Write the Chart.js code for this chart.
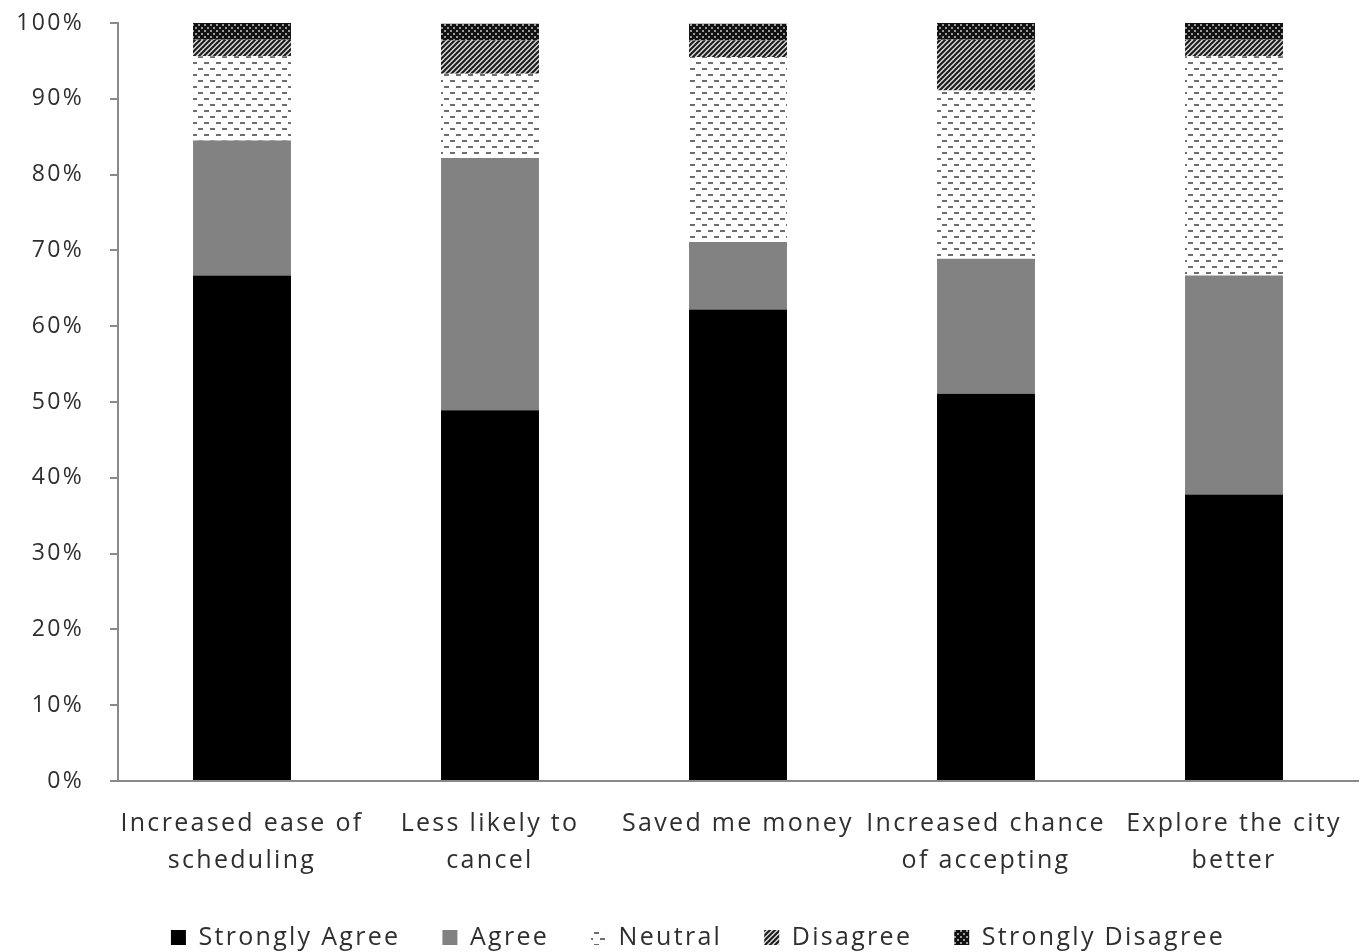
<!DOCTYPE html>
<html>
<head>
<meta charset="utf-8">
<script src="https://cdn.jsdelivr.net/npm/chart.js@4.4.1/dist/chart.umd.min.js"></script>
<style>
  html, body { margin: 0; padding: 0; background: #ffffff; }
  #wrap { width: 1361px; height: 952px; }
</style>
</head>
<body>
<div id="wrap"><canvas id="chart" width="1361" height="952"></canvas></div>
<script>
// Survey responses, percent of respondents per statement
const categories = [
  ["Increased ease of", "scheduling"],
  ["Less likely to", "cancel"],
  ["Saved me money"],
  ["Increased chance", "of accepting"],
  ["Explore the city", "better"]
];
const seriesNames = ["Strongly Agree", "Agree", "Neutral", "Disagree", "Strongly Disagree"];
const stronglyAgree    = [66.7, 48.9, 62.2, 51.1, 37.8];
const agree            = [17.8, 33.3,  8.9, 17.8, 28.9];
const neutral          = [11.1, 11.1, 24.4, 22.2, 28.9];
const disagree         = [ 2.2,  4.4,  2.2,  6.7,  2.2];
const stronglyDisagree = [ 2.2,  2.2,  2.2,  2.2,  2.2];
const yTicks = [0, 10, 20, 30, 40, 50, 60, 70, 80, 90, 100];

const canvas = document.getElementById('chart');
const ctx = canvas.getContext('2d');

// Small tiled fills for the monochrome series
function makePattern(w, h, paint) {
  const c = document.createElement('canvas');
  c.width = w; c.height = h;
  const g = c.getContext('2d');
  paint(g, w, h);
  return ctx.createPattern(c, 'repeat');
}

const fillSolidBlack = '#000000';
const fillGray = '#828282';
const fillDashes = makePattern(12, 12, (g, w, h) => {
  g.fillStyle = '#ffffff';
  g.fillRect(0, 0, w, h);
  g.fillStyle = '#6e6e6e';
  g.fillRect(0, 2, 5, 2);
  g.fillRect(6, 8, 5, 2);
});
const fillHatch = makePattern(5, 5, (g, w, h) => {
  g.fillStyle = '#d8d8d8';
  g.fillRect(0, 0, w, h);
  g.strokeStyle = '#1a1a1a';
  g.lineWidth = 2;
  g.beginPath();
  g.moveTo(-1, h + 1); g.lineTo(w + 1, -1);
  g.moveTo(-1, 1); g.lineTo(1, -1);
  g.moveTo(w - 1, h + 1); g.lineTo(w + 1, h - 1);
  g.stroke();
});
const fillDots = makePattern(6, 6, (g, w, h) => {
  g.fillStyle = '#111111';
  g.fillRect(0, 0, w, h);
  g.fillStyle = '#9a9a9a';
  g.fillRect(0, 0, 2, 2);
  g.fillRect(3, 3, 2, 2);
});

const seriesValues = [stronglyAgree, agree, neutral, disagree, stronglyDisagree];
const seriesFills = [fillSolidBlack, fillGray, fillDashes, fillHatch, fillDots];

const textColor = '#2f2f2f';
const axisColor = '#8a8a8a';
const fontFamily = "'Open Sans', 'Noto Sans', sans-serif";

// Wider letter spacing for all chart text
const spacingPlugin = {
  id: 'spacing',
  beforeLayout(chart) { chart.ctx.letterSpacing = '2.3px'; },
  beforeDraw(chart) { chart.ctx.letterSpacing = '2.3px'; }
};

// Nudge the legend row a little to the right of the canvas centre
const legendShift = {
  id: 'legendShift',
  afterLayout(chart) {
    if (chart.legend) chart.legend.left += 38;
  }
};

new Chart(ctx, {
  type: 'bar',
  data: {
    labels: categories,
    datasets: seriesNames.map((name, i) => ({
      label: name,
      data: seriesValues[i],
      backgroundColor: seriesFills[i],
      borderWidth: 0,
      categoryPercentage: 1.0,
      barPercentage: 0.395
    }))
  },
  options: {
    responsive: false,
    animation: false,
    layout: { padding: { top: 23, right: 3, left: 0, bottom: -8 } },
    plugins: {
      tooltip: { enabled: false },
      legend: {
        position: 'bottom',
        labels: {
          color: textColor,
          font: { family: fontFamily, size: 25 },
          boxWidth: 15,
          boxHeight: 15,
          padding: 42
        }
      }
    },
    scales: {
      x: {
        stacked: true,
        grid: { display: false, drawTicks: false },
        border: { display: true, color: axisColor, width: 2 },
        ticks: {
          color: textColor,
          font: { family: fontFamily, size: 25, lineHeight: 1.5 },
          padding: 24,
          maxRotation: 0,
          autoSkip: false
        },
        afterFit(scale) {
          scale.height = 102;
          scale.paddingLeft = 0;
          scale.paddingRight = 0;
        }
      },
      y: {
        stacked: true,
        min: 0,
        max: 100,
        afterBuildTicks(scale) { scale.ticks = yTicks.map(v => ({ value: v })); },
        grid: {
          drawOnChartArea: false,
          drawTicks: true,
          tickLength: 8,
          color: axisColor,
          lineWidth: 2
        },
        border: { display: true, color: axisColor, width: 2 },
        ticks: {
          color: textColor,
          font: { family: fontFamily, size: 23 },
          padding: 26,
          callback: v => v + '%'
        },
        afterFit(scale) {
          scale.width = 118;
          scale.paddingTop = 0;
          scale.paddingBottom = 0;
        }
      }
    }
  },
  plugins: [spacingPlugin, legendShift]
});
</script>
</body>
</html>
